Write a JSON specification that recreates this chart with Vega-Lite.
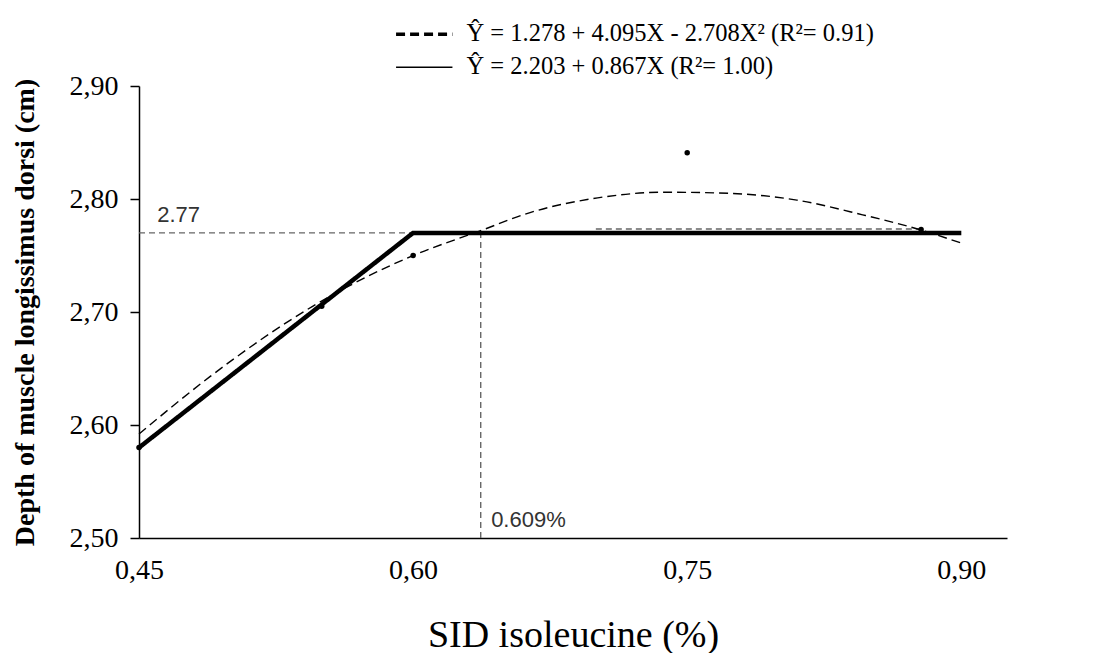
{
  "$schema": "https://vega.github.io/schema/vega-lite/v6.json",
  "width": 868,
  "height": 452,
  "autosize": "none",
  "padding": {"left": 139, "top": 86, "right": 109, "bottom": 115},
  "background": "white",
  "config": {
    "view": {"stroke": null},
    "font": "Liberation Serif",
    "axis": {
      "grid": false,
      "domainColor": "black",
      "domainWidth": 1.5,
      "labelColor": "black",
      "titleColor": "black",
      "tickColor": "black",
      "labelFont": "Liberation Serif",
      "titleFont": "Liberation Serif"
    }
  },
  "datasets": {
    "lines": [
      {"model": "Ŷ = 1.278 + 4.095X - 2.708X²  (R²= 0.91)", "x": 0.45, "y": 2.592},
      {"model": "Ŷ = 1.278 + 4.095X - 2.708X²  (R²= 0.91)", "x": 0.489, "y": 2.643},
      {"model": "Ŷ = 1.278 + 4.095X - 2.708X²  (R²= 0.91)", "x": 0.545, "y": 2.705},
      {"model": "Ŷ = 1.278 + 4.095X - 2.708X²  (R²= 0.91)", "x": 0.6, "y": 2.75},
      {"model": "Ŷ = 1.278 + 4.095X - 2.708X²  (R²= 0.91)", "x": 0.637, "y": 2.772},
      {"model": "Ŷ = 1.278 + 4.095X - 2.708X²  (R²= 0.91)", "x": 0.664, "y": 2.788},
      {"model": "Ŷ = 1.278 + 4.095X - 2.708X²  (R²= 0.91)", "x": 0.701, "y": 2.801},
      {"model": "Ŷ = 1.278 + 4.095X - 2.708X²  (R²= 0.91)", "x": 0.737, "y": 2.806},
      {"model": "Ŷ = 1.278 + 4.095X - 2.708X²  (R²= 0.91)", "x": 0.773, "y": 2.805},
      {"model": "Ŷ = 1.278 + 4.095X - 2.708X²  (R²= 0.91)", "x": 0.81, "y": 2.799},
      {"model": "Ŷ = 1.278 + 4.095X - 2.708X²  (R²= 0.91)", "x": 0.846, "y": 2.786},
      {"model": "Ŷ = 1.278 + 4.095X - 2.708X²  (R²= 0.91)", "x": 0.877, "y": 2.773},
      {"model": "Ŷ = 1.278 + 4.095X - 2.708X²  (R²= 0.91)", "x": 0.9, "y": 2.761},
      {"model": "Ŷ = 2.203 + 0.867X   (R²= 1.00)", "x": 0.45, "y": 2.58},
      {"model": "Ŷ = 2.203 + 0.867X   (R²= 1.00)", "x": 0.6, "y": 2.77},
      {"model": "Ŷ = 2.203 + 0.867X   (R²= 1.00)", "x": 0.9, "y": 2.77}
    ],
    "points": [
      {"x": 0.45, "y": 2.58},
      {"x": 0.55, "y": 2.705},
      {"x": 0.6, "y": 2.75},
      {"x": 0.75, "y": 2.841},
      {"x": 0.878, "y": 2.773}
    ],
    "refs": [
      {"x": 0.45, "x2": 0.6, "y": 2.77, "y2": 2.77},
      {"x": 0.637, "x2": 0.637, "y": 2.5, "y2": 2.77},
      {"x": 0.7, "x2": 0.877, "y": 2.7735, "y2": 2.7735}
    ],
    "labels": [
      {"x": 0.46, "y": 2.786, "label": "2.77"},
      {"x": 0.6427, "y": 2.516, "label": "0.609%"}
    ]
  },
  "encoding": {
    "x": {
      "field": "x",
      "type": "quantitative",
      "scale": {"domain": [0.45, 0.925], "nice": false, "zero": false},
      "axis": {
        "values": [0.45, 0.6, 0.75, 0.9],
        "labelExpr": "replace(format(datum.value, '.2f'), '.', ',')",
        "ticks": false,
        "labelFontSize": 28,
        "labelPadding": 18,
        "labelFlush": false,
        "title": "SID isoleucine (%)",
        "titleFontSize": 38,
        "titleFontWeight": "normal",
        "titlePadding": 32
      }
    },
    "y": {
      "field": "y",
      "type": "quantitative",
      "scale": {"domain": [2.5, 2.9], "nice": false, "zero": false},
      "axis": {
        "values": [2.5, 2.6, 2.7, 2.8, 2.9],
        "labelExpr": "replace(format(datum.value, '.2f'), '.', ',')",
        "tickSize": 9,
        "tickWidth": 1.5,
        "labelFontSize": 28,
        "labelPadding": 12,
        "title": "Depth of muscle longissimus dorsi (cm)",
        "titleFontSize": 28,
        "titleFontWeight": "bold",
        "titlePadding": 30
      }
    }
  },
  "layer": [
    {
      "data": {"name": "refs"},
      "mark": {"type": "rule", "color": "#666666", "strokeDash": [6, 4], "strokeWidth": 1.4},
      "encoding": {"x2": {"field": "x2"}, "y2": {"field": "y2"}}
    },
    {
      "data": {"name": "lines"},
      "transform": [{"filter": "indexof(datum.model, '0.91') >= 0"}],
      "mark": {"type": "line", "color": "black", "interpolate": "monotone", "strokeWidth": 1.4},
      "encoding": {
        "strokeDash": {
          "field": "model",
          "type": "nominal",
          "scale": {
            "domain": ["Ŷ = 1.278 + 4.095X - 2.708X²  (R²= 0.91)", "Ŷ = 2.203 + 0.867X   (R²= 1.00)"],
            "range": [[9, 5], [1, 0]]
          },
          "legend": {
            "orient": "none",
            "legendX": 273,
            "legendY": -64,
            "title": null,
            "direction": "vertical",
            "labelFont": "Liberation Serif",
            "labelFontSize": 24.5,
            "labelColor": "black",
            "labelLimit": 0,
            "symbolType": "M-1.7,0H1.7",
            "symbolSize": 1100,
            "symbolStrokeColor": "black",
            "symbolStrokeWidth": 2.5,
            "labelOffset": 30,
            "rowPadding": 8,
            "encode": {
              "symbols": {
                "update": {
                  "strokeWidth": {"signal": "datum.index === 0 ? 3.5 : 1.3"},
                  "strokeDash": {"signal": "datum.index === 0 ? [14, 9] : [1, 0]"}
                }
              }
            }
          }
        }
      }
    },
    {
      "data": {"name": "lines"},
      "transform": [{"filter": "indexof(datum.model, '1.00') >= 0"}],
      "mark": {"type": "line", "color": "black", "interpolate": "linear", "strokeWidth": 4.5},
      "encoding": {
        "strokeDash": {
          "field": "model",
          "type": "nominal",
          "scale": {
            "domain": ["Ŷ = 1.278 + 4.095X - 2.708X²  (R²= 0.91)", "Ŷ = 2.203 + 0.867X   (R²= 1.00)"],
            "range": [[9, 5], [1, 0]]
          }
        }
      }
    },
    {
      "data": {"name": "points"},
      "mark": {"type": "point", "filled": true, "color": "black", "size": 30, "opacity": 1}
    },
    {
      "data": {"name": "labels"},
      "mark": {"type": "text", "align": "left", "baseline": "middle", "font": "Liberation Sans", "fontSize": 22, "color": "#333333"},
      "encoding": {"text": {"field": "label"}}
    }
  ]
}
